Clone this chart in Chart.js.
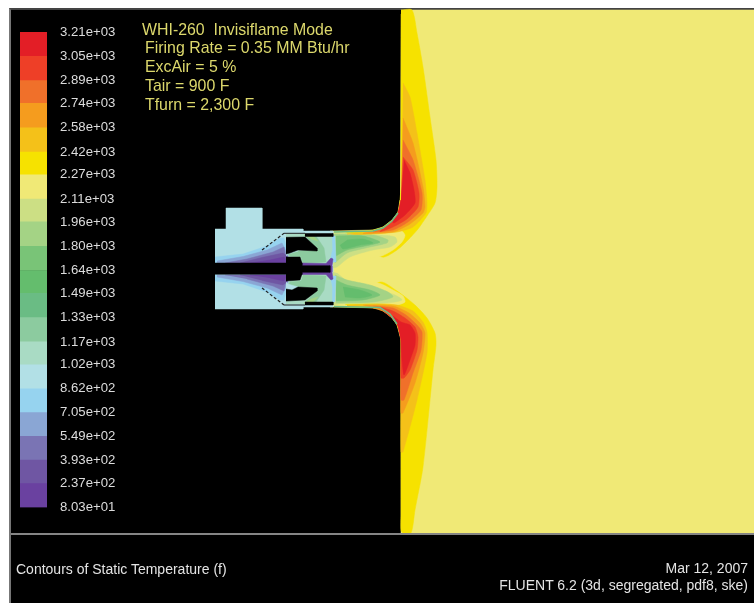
<!DOCTYPE html>
<html>
<head>
<meta charset="utf-8">
<title>Contours of Static Temperature</title>
<script src="https://cdn.jsdelivr.net/npm/chart.js@4/dist/chart.umd.js"></script>
<style>
    html { margin: 0; padding: 0; background: #fff; overflow: hidden; }
    body { margin: 0; padding: 0; background: #fff; }
    #frame { position: absolute; left: 0; top: 0; width: 754px; height: 603px; }
    #panel { position: absolute; left: 9px; top: 8px; right: 0; bottom: 0; background: #000; border-left: 2px solid #777; border-top: 2px solid #444; }
    #rule { position: absolute; left: 11px; top: 533px; right: 0; height: 2px; background: #858585; }
    canvas { position: absolute; left: 0; top: 0; }
    .note { position: absolute; white-space: pre; font-family: "Liberation Sans", Arial, sans-serif; line-height: 1; }
    .yellow { color: #dcd86c; font-size: 15.9px; }
    .white { color: #e4e4e4; font-size: 14px; }
</style>
</head>
<body>
<div id="frame">
    <div id="panel"></div>
    <canvas id="contourChart" width="754" height="603"></canvas>
    <canvas id="legendChart" width="130" height="540"></canvas>
    <div id="rule"></div>
    <div class="note yellow" style="left:142px;top:22px">WHI-260  Invisiflame Mode</div>
    <div class="note yellow" style="left:145px;top:40px">Firing Rate = 0.35 MM Btu/hr</div>
    <div class="note yellow" style="left:145px;top:59px">ExcAir = 5 %</div>
    <div class="note yellow" style="left:145px;top:78px">Tair = 900 F</div>
    <div class="note yellow" style="left:145px;top:97px">Tfurn = 2,300 F</div>
    <div class="note white" style="left:16px;top:562px">Contours of Static Temperature (f)</div>
    <div class="note white" style="right:6px;top:561px">Mar 12, 2007</div>
    <div class="note white" style="right:6px;top:578px">FLUENT 6.2 (3d, segregated, pdf8, ske)</div>
</div>

<script>
// Colorbar: level values (low to high) and the labels printed next to them
const levelValues = [80.3, 237, 393, 549, 705, 862, 1020, 1170, 1330, 1490, 1640, 1800, 1960, 2110, 2270, 2420, 2580, 2740, 2890, 3050, 3210];
const levelLabels = ['8.03e+01', '2.37e+02', '3.93e+02', '5.49e+02', '7.05e+02', '8.62e+02', '1.02e+03', '1.17e+03', '1.33e+03', '1.49e+03', '1.64e+03', '1.80e+03', '1.96e+03', '2.11e+03', '2.27e+03', '2.42e+03', '2.58e+03', '2.74e+03', '2.89e+03', '3.05e+03', '3.21e+03'];

// Contour regions, as outlines in picture coordinates
const furnace = [[401,10],[754,10],[754,533],[401,533],[401,340],[397,325],[390,315],[380,308],[330,307],[330,231],[373,230],[383,227],[392,220],[398,212],[400,200]];
const burnerBody = [[215,229],[226,229],[226,208],[262,208],[262,229],[303,229],[303,231],[333,231],[333,307],[303,307],[303,309],[215,309]];

const yellowTop = [[401,10],[412,10],[417,33],[423,67],[430,117],[436,160],[437,187],[435,203],[427,216],[418,229],[408,240],[397,250],[382,257],[345,234],[373,230],[383,227],[392,220],[398,212],[400,200],[401,185],[401,30],[401,14]];
const yellowBottom = [[345,305],[380,282],[397,291],[415,305],[427,318],[435,333],[436,345],[433,370],[423,467],[415,510],[411,533],[403,533],[401,530],[401,515],[401,355],[401,340],[397,325],[390,315],[380,308]];
const pocketTop = [[345,234],[377,233],[390,232],[400,230],[405,235],[402,242],[393,250],[380,256.5],[350,260]];
const pocketBottom = [[347,303],[377,303],[397,305],[405,302],[403,296],[393,290],[380,283.5],[350,278]];

const limeTop = [[335,233],[380,235],[395,237],[397,242],[390,247],[373,250],[350,257],[337,267],[333,268]];
const limeBottom = [[337,273],[350,283],[373,288],[395,295],[402,300],[387,303],[340,304],[333,304],[333,272]];
const leafTop = [[334,234],[373,235],[388,240],[387,243],[370,247],[347,253],[335,263]];
const leafBottom = [[335,275],[347,280],[370,285],[388,292],[393,297],[373,302],[336,303]];
const greenTop = [[336,236],[363,236],[380,242],[370,245],[347,250],[336,256]];
const greenBottom = [[336,280],[347,285],[370,290],[380,295],[363,300],[336,301]];
const coreTop = [[347,240],[363,239],[373,243],[360,245],[343,249],[340,245]];
const coreBottom = [[343,287],[360,290],[372,295],[360,298],[345,297]];

const amberTop = [[403,83],[410,97],[417,133],[425,180],[427,203],[426,213],[413,227],[397,232],[363,234.5],[347,234],[373,231],[383,228],[392,221],[398,213],[401,200]];
const orangeTop = [[403,118],[413,143],[423,187],[425,207],[423,213],[410,224],[393,232],[363,233.5],[373,231],[383,228],[392,221],[398,213],[401,200]];
const darkOrangeTop = [[403,140],[413,160],[422,193],[421,210],[408,222],[393,230],[373,232],[383,228],[392,221],[398,213],[401,200]];
const redOrangeTop = [[403,157],[413,170],[419,193],[418,207],[407,219],[393,227],[380,231.5],[392,221],[398,213],[401,200]];
const redTop = [[404,160],[410,173],[414,190],[415,203],[405,215],[394,223],[392,221],[398,213],[401,200]];

const amberBottom = [[347,305],[377,304],[397,305],[413,311],[423,322],[427,332],[427,353],[417,400],[403,452],[401,452],[401,340],[398,326],[392,318],[383,311],[373,308],[347,307]];
const orangeBottom = [[363,305],[393,306],[409,313],[420,323],[425,333],[423,353],[415,383],[403,413],[401,413],[401,340],[398,326],[392,318],[383,311],[373,308]];
const darkOrangeBottom = [[373,306],[393,308],[406,315],[417,325],[422,332],[421,350],[413,373],[404,400],[401,400],[401,340],[398,326],[392,318],[383,311]];
const redOrangeBottom = [[380,307],[393,311],[405,318],[415,327],[418,337],[417,350],[410,370],[404,378],[401,378],[401,340],[398,326],[392,318],[385,312]];
const redBottom = [[393,316],[401,322],[410,325],[415,333],[415,345],[410,360],[404,375],[402,360],[401,340],[398,326]];

const wallTop = [[334,232],[373,231],[383,228],[392,221],[398,213]];
const wallBottom = [[334,306.5],[380,307.5],[390,314],[397,324]];

// Inside the burner
const nozzleTop = [[286,234],[333,234],[334,262],[330,266],[286,266]];
const nozzleBottom = [[286,272],[330,272],[334,278],[333,304],[286,304]];
const nozzleGreenTop = [[304,235],[316,236],[324,248],[326,262],[303,263],[301,257],[290,256],[288,254],[298,251],[317,251],[317,248]];
const nozzleGreenBottom = [[303,275],[326,276],[324,290],[316,302],[304,303],[317,291],[317,288],[298,287],[288,285],[290,282],[301,281]];
const nozzleLimeTop = [[304,235],[312,235],[318,241],[311,239]];
const nozzleLimeBottom = [[311,299],[318,297],[312,303],[304,303]];
const streakTop = [[332,236],[335,236],[336,262],[330,262],[332.5,250]];
const streakBottom = [[330,276],[336,276],[335,302],[332,302],[332.5,288]];
const wedgeSkyTop = [[215,257],[243,254],[267,246],[280,238],[284,238],[286,245],[287,263],[215,263]];
const wedgeSkyBottom = [[215,275],[287,275],[286,293],[284,300],[280,300],[267,292],[243,284],[215,281]];
const wedgeBlueTop = [[217,261],[243,256.5],[267,250],[282,243],[288,255],[287,263],[217,263]];
const wedgeBlueBottom = [[217,275],[287,275],[288,283],[282,295],[267,288],[243,281.5],[217,277]];
const wedgeSlateTop = [[225,263],[247,259],[273,252],[284,247],[287,263]];
const wedgeSlateBottom = [[225,275],[287,275],[284,291],[273,286],[247,279]];
const wedgePurpleTop = [[240,263],[262,257.5],[283,253],[287,256],[287,263]];
const wedgePurpleBottom = [[240,275],[287,275],[287,282],[283,285],[262,280.5]];
const wedgeDarkTop = [[250,263],[270,260],[284,257],[287,263]];
const wedgeDarkBottom = [[250,275],[287,275],[284,281],[270,278]];
const streakPaleTop = [[286,244],[296,250],[298,251],[288,254],[286,256]];
const streakPaleBottom = [[286,282],[288,284],[298,287],[296,288],[286,294]];
const throatPurple = [[301,263],[326,263.5],[331,258],[333,259],[332,266],[332,272],[333,279],[331,280],[326,274.5],[301,274.5]];

// Solid pieces with no flow in them
const centerBlack = [[215,263],[302,263],[302,265.7],[330,265.7],[330,272.3],[302,272.3],[302,274.3],[215,274.3]];
const blockTop = [[286,237.3],[305,237],[317,248],[317,251],[298,250],[290,253],[286,254]];
const blockBottom = [[286,289],[292,290],[298,287],[317,288],[317,291],[305,300],[286,301]];
const plugTop = [[286,257],[300,257],[302,263],[286,263]];
const plugBottom = [[286,274],[302,274],[300,280],[286,281]];
const barTop = [[305,233.5],[333,233.5],[333,236.5],[305,236.5]];
const barBottom = [[305,302],[333,302],[333,305],[305,305]];

const lineTop = [[284,233.3],[305,233.3]];
const lineBottom = [[284,305],[305,305]];
const dashTop = [[262,250],[284,233.3]];
const dashBottom = [[262,288],[284,305]];

// Band colours, same order as the colorbar from low to high
const bandColors = ['#6a41a0', '#6f56a3', '#7a74b4', '#8aa6d4', '#96d3ef', '#b2e0e6', '#a9dbc4', '#8ccb9f', '#6abc84', '#64bd6d', '#79c477', '#a4d385', '#ccdf84', '#f0e976', '#f6e200', '#f4c119', '#f59c1e', '#f0702a', '#ee3f27', '#e31e26'];

function region(points, color, tension) {
    return {
        data: points,
        backgroundColor: color,
        borderColor: color,
        borderWidth: 0.5,
        fill: 'shape',
        showLine: true,
        tension: tension || 0,
        pointRadius: 0
    };
}

function stroke(points, color, width, dash) {
    return {
        data: points,
        borderColor: color,
        borderWidth: width,
        borderDash: dash || [],
        fill: false,
        showLine: true,
        tension: 0,
        pointRadius: 0
    };
}

// Listed from the bottom up, painted in this order
const layers = [
    region(furnace, bandColors[13]),
    region(burnerBody, bandColors[5]),
    region(yellowTop, bandColors[14], 0.25),
    region(yellowBottom, bandColors[14], 0.25),
    region(pocketTop, bandColors[13], 0.25),
    region(pocketBottom, bandColors[13], 0.25),
    region(limeTop, bandColors[12], 0.25),
    region(limeBottom, bandColors[12], 0.25),
    region(leafTop, bandColors[11], 0.25),
    region(leafBottom, bandColors[11], 0.25),
    region(greenTop, bandColors[10], 0.25),
    region(greenBottom, bandColors[10], 0.25),
    region(coreTop, bandColors[9], 0.25),
    region(coreBottom, bandColors[9], 0.25),
    region(amberTop, bandColors[15], 0.2),
    region(orangeTop, bandColors[16], 0.2),
    region(darkOrangeTop, bandColors[17], 0.2),
    region(redOrangeTop, bandColors[18], 0.2),
    region(redTop, bandColors[19], 0.2),
    region(amberBottom, bandColors[15], 0.2),
    region(orangeBottom, bandColors[16], 0.2),
    region(darkOrangeBottom, bandColors[17], 0.2),
    region(redOrangeBottom, bandColors[18], 0.2),
    region(redBottom, bandColors[19], 0.2),
    stroke(wallTop, bandColors[8], 1.5),
    stroke(wallBottom, bandColors[8], 1.5),
    region(nozzleTop, bandColors[6]),
    region(nozzleBottom, bandColors[6]),
    region(nozzleGreenTop, bandColors[7]),
    region(nozzleGreenBottom, bandColors[7]),
    region(nozzleLimeTop, bandColors[11]),
    region(nozzleLimeBottom, bandColors[11]),
    region(streakTop, bandColors[4]),
    region(streakBottom, bandColors[4]),
    region(wedgeSkyTop, bandColors[4]),
    region(wedgeSkyBottom, bandColors[4]),
    region(wedgeBlueTop, bandColors[3]),
    region(wedgeBlueBottom, bandColors[3]),
    region(wedgeSlateTop, bandColors[2]),
    region(wedgeSlateBottom, bandColors[2]),
    region(wedgePurpleTop, bandColors[1]),
    region(wedgePurpleBottom, bandColors[1]),
    region(wedgeDarkTop, bandColors[0]),
    region(wedgeDarkBottom, bandColors[0]),
    region(streakPaleTop, bandColors[5]),
    region(streakPaleBottom, bandColors[5]),
    region(throatPurple, bandColors[0]),
    region(centerBlack, '#000'),
    region(blockTop, '#000'),
    region(blockBottom, '#000'),
    region(plugTop, '#000'),
    region(plugBottom, '#000'),
    region(barTop, '#000'),
    region(barBottom, '#000'),
    stroke(lineTop, '#222', 1),
    stroke(lineBottom, '#222', 1),
    stroke(dashTop, '#222', 1.2, [3, 2]),
    stroke(dashBottom, '#222', 1.2, [3, 2])
];

new Chart(document.getElementById('contourChart'), {
    type: 'scatter',
    data: { datasets: layers.slice().reverse() }, // Chart.js paints the first dataset last
    options: {
        responsive: false,
        animation: false,
        plugins: { legend: { display: false }, tooltip: { enabled: false } },
        scales: {
            x: { type: 'linear', display: false, min: 0, max: 754 },
            y: { type: 'linear', display: false, min: 0, max: 603, reverse: true }
        }
    }
});

// Colorbar as floating bars on the temperature axis
new Chart(document.getElementById('legendChart'), {
    type: 'bar',
    data: {
        labels: ['T'],
        datasets: bandColors.map((color, i) => ({
            data: [[levelValues[i], levelValues[i + 1]]],
            backgroundColor: color,
            categoryPercentage: 1,
            barPercentage: 1,
            grouped: false
        }))
    },
    options: {
        responsive: false,
        animation: false,
        layout: { padding: { left: 20, top: 32, bottom: 32.5 } },
        plugins: { legend: { display: false }, tooltip: { enabled: false } },
        scales: {
            x: { display: false },
            y: {
                position: 'right',
                min: levelValues[0],
                max: levelValues[levelValues.length - 1],
                grid: { display: false, drawTicks: false },
                border: { display: false },
                afterBuildTicks: axis => { axis.ticks = levelValues.map(v => ({ value: v })); },
                afterFit: axis => { axis.width = 83; },
                ticks: {
                    autoSkip: false,
                    padding: 13,
                    color: '#dcdcdc',
                    font: { family: '"Liberation Sans", Arial, sans-serif', size: 13.2 },
                    callback: (value, i) => levelLabels[i]
                }
            }
        }
    }
});
</script>
</body>
</html>
